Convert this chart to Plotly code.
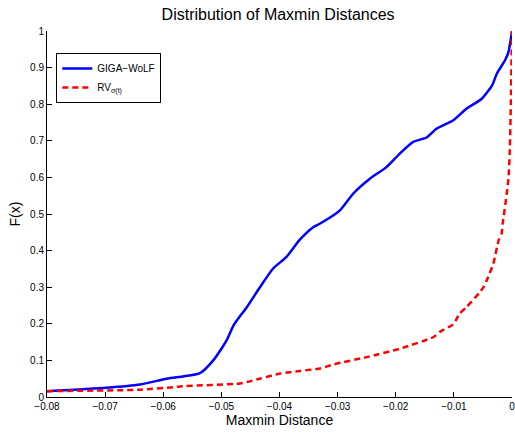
import plotly.graph_objects as go

giga_x = [-0.08, -0.0698, -0.064, -0.0594, -0.0537, -0.0514, -0.0491, -0.0479, -0.0456,
          -0.0434, -0.0411, -0.0388, -0.0365, -0.0342, -0.033, -0.0296, -0.0273, -0.0244,
          -0.0216, -0.0193, -0.017, -0.0147, -0.013, -0.0101, -0.0078, -0.0052, -0.0034,
          -0.0026, -0.0012, -0.0006, 0.0]
giga_y = [0.016, 0.025, 0.034, 0.05, 0.065, 0.10, 0.155, 0.196, 0.246,
          0.299, 0.351, 0.383, 0.43, 0.464, 0.474, 0.51, 0.556, 0.597,
          0.628, 0.665, 0.697, 0.709, 0.733, 0.756, 0.788, 0.815, 0.852,
          0.884, 0.92, 0.943, 1.0]

rv_x = [-0.08, -0.064, -0.0583, -0.0571, -0.0468, -0.0456, -0.0434, -0.0399, -0.0365,
        -0.033, -0.0307, -0.025, -0.0193, -0.0135, -0.0124, -0.0101, -0.009, -0.0078,
        -0.0055, -0.0049, -0.0041, -0.0032, -0.0023, -0.0018, -0.0016, -0.0009, -0.0006,
        -0.0004, -0.0002, 0.0]
rv_y = [0.016, 0.02, 0.027, 0.029, 0.037, 0.041, 0.05, 0.064, 0.071,
        0.078, 0.089, 0.109, 0.132, 0.164, 0.178, 0.199, 0.228, 0.246,
        0.287, 0.30, 0.328, 0.365, 0.428, 0.446, 0.474, 0.556, 0.60,
        0.665, 0.80, 1.0]

x_ticks = [-0.08, -0.07, -0.06, -0.05, -0.04, -0.03, -0.02, -0.01, 0]
x_tick_labels = ["\u22120.08", "\u22120.07", "\u22120.06", "\u22120.05", "\u22120.04",
                 "\u22120.03", "\u22120.02", "\u22120.01", "0"]
y_ticks = [0, 0.1, 0.2, 0.3, 0.4, 0.5, 0.6, 0.7, 0.8, 0.9, 1]
y_tick_labels = ["0", "0.1", "0.2", "0.3", "0.4", "0.5", "0.6", "0.7", "0.8", "0.9", "1"]

font = "Liberation Sans, Arial, sans-serif"

fig = go.Figure()
fig.add_trace(go.Scatter(x=giga_x, y=giga_y, mode="lines", name="GIGA\u2212WoLF",
                         line=dict(color="#0000ff", width=2.5, shape="spline", smoothing=0.6)))
fig.add_trace(go.Scatter(x=rv_x, y=rv_y, mode="lines", name="RV<sub>\u03c3(t)</sub>",
                         line=dict(color="#ff0000", width=2.5, dash="6px,4px",
                                   shape="spline", smoothing=0.6)))

axis_common = dict(showgrid=False, zeroline=False, showline=True, linecolor="black",
                   linewidth=1, ticks="inside", ticklen=5, tickcolor="black",
                   ticklabeloverflow="allow", automargin=False,
                   tickfont=dict(family=font, size=10, color="black"))

fig.update_layout(
    width=515, height=432,
    margin=dict(l=47, r=3, t=31, b=35),
    paper_bgcolor="white", plot_bgcolor="white",
    title=dict(text="Distribution of Maxmin Distances", x=0.54, xanchor="center",
               y=0.967, yanchor="middle",
               font=dict(family=font, size=16, color="black")),
    xaxis=dict(range=[-0.08, 0], tickvals=x_ticks, ticktext=x_tick_labels,
               title=dict(text="Maxmin Distance", standoff=2,
                          font=dict(family=font, size=14, color="black")),
               **axis_common),
    yaxis=dict(range=[0, 1], tickvals=y_ticks, ticktext=y_tick_labels,
               title=dict(text="F(x)", standoff=6,
                          font=dict(family=font, size=14, color="black")),
               **axis_common),
    legend=dict(x=0.02, y=0.94, xanchor="left", yanchor="top",
                bgcolor="white", bordercolor="black", borderwidth=1,
                font=dict(family=font, size=10, color="black"),
                tracegroupgap=0, itemwidth=30),
    showlegend=True,
)

fig.write_html("out.html")
